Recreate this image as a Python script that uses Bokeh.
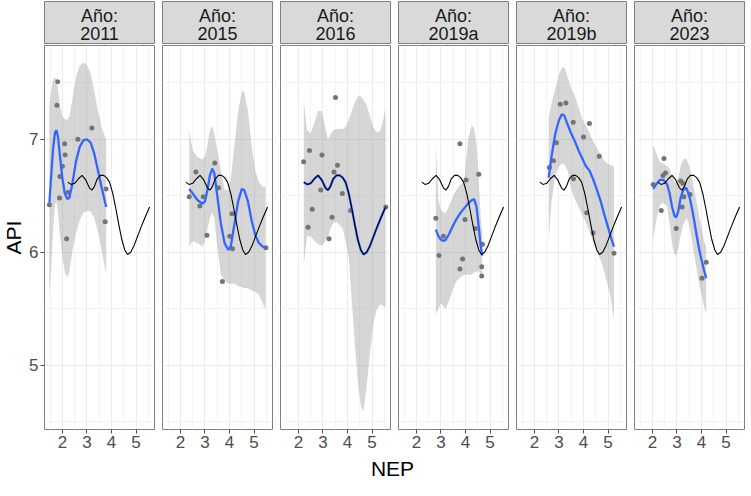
import math
from bokeh.plotting import figure
from bokeh.layouts import row, column
from bokeh.models import Range1d, FixedTicker
from bokeh.core.properties import value
from bokeh.embed import file_html
from bokeh.resources import INLINE

FONT = "Liberation Sans"

# ---------------- data ----------------
facet_years = ["2011", "2015", "2016", "2019a", "2019b", "2023"]
strip_prefix = "Año:"
x_ticks = [2, 3, 4, 5]
x_minor = [1.5, 2.5, 3.5, 4.5, 5.5]
y_ticks = [5, 6, 7]
y_minor = [4.5, 5.5, 6.5, 7.5]
x_label = "NEP"
y_label = "API"

# observed points
nep_2011 = [1.81, 1.78, 3.20, 2.63, 2.09, 2.11, 2.00, 1.90, 2.24, 1.88, 1.47, 3.78, 3.74, 2.17]
api_2011 = [7.51, 7.30, 7.10, 7.00, 6.96, 6.86, 6.76, 6.67, 6.53, 6.48, 6.42, 6.56, 6.27, 6.12]
nep_2015 = [3.40, 2.63, 3.55, 2.93, 2.36, 2.79, 4.10, 3.08, 4.01, 4.12, 5.48, 3.71]
api_2015 = [6.79, 6.71, 6.57, 6.49, 6.49, 6.41, 6.34, 6.15, 6.14, 6.03, 6.04, 5.74]
nep_2016 = [3.51, 2.45, 2.96, 2.21, 3.59, 3.45, 2.91, 3.79, 2.56, 4.13, 3.37, 2.39, 3.25, 5.56]
api_2016 = [7.37, 6.90, 6.86, 6.80, 6.77, 6.71, 6.55, 6.52, 6.38, 6.37, 6.31, 6.22, 6.12, 6.40]
nep_2019a = [3.77, 4.54, 4.02, 2.79, 3.98, 4.40, 3.10, 4.69, 2.92, 3.88, 3.77, 4.66, 4.66]
api_2019a = [6.96, 6.69, 6.64, 6.30, 6.29, 6.21, 6.14, 6.07, 5.97, 5.94, 5.85, 5.87, 5.79]
nep_2019b = [3.05, 3.28, 3.58, 4.24, 4.00, 2.89, 4.64, 2.78, 2.61, 3.59, 4.13, 4.39, 5.24]
api_2019b = [7.31, 7.32, 7.15, 7.14, 7.02, 6.97, 6.85, 6.81, 6.75, 6.65, 6.35, 6.17, 5.99]
nep_2023 = [2.47, 2.53, 2.43, 2.03, 3.15, 3.24, 3.28, 3.53, 3.21, 2.36, 2.97, 4.19, 4.02]
api_2023 = [6.83, 6.70, 6.68, 6.60, 6.63, 6.61, 6.49, 6.51, 6.40, 6.37, 6.21, 5.91, 5.77]

# smoothed fits (x, fit, lower, upper)
sx_2011 = [1.47, 1.55, 1.62, 1.70, 1.76, 1.82, 1.90, 2.00, 2.10, 2.20, 2.28, 2.40, 2.55, 2.70, 2.85, 3.00, 3.15, 3.30, 3.45, 3.60, 3.78]
sy_2011 = [6.44, 6.70, 6.92, 7.06, 7.08, 7.02, 6.85, 6.65, 6.52, 6.47, 6.48, 6.60, 6.80, 6.93, 6.99, 7.00, 6.97, 6.87, 6.72, 6.57, 6.40]
lo_2011 = [5.60, 5.90, 6.20, 6.42, 6.45, 6.35, 6.15, 5.95, 5.82, 5.78, 5.82, 6.00, 6.17, 6.28, 6.35, 6.37, 6.36, 6.30, 6.18, 6.02, 5.80]
hi_2011 = [7.30, 7.45, 7.53, 7.55, 7.52, 7.45, 7.30, 7.20, 7.18, 7.17, 7.20, 7.35, 7.55, 7.65, 7.68, 7.66, 7.58, 7.42, 7.25, 7.10, 7.00]

sx_2015 = [2.36, 2.50, 2.70, 2.90, 3.00, 3.10, 3.20, 3.30, 3.38, 3.50, 3.65, 3.80, 3.95, 4.05, 4.20, 4.35, 4.50, 4.60, 4.75, 4.90, 5.05, 5.20, 5.35, 5.47]
sy_2015 = [6.56, 6.52, 6.46, 6.43, 6.45, 6.55, 6.68, 6.74, 6.70, 6.50, 6.25, 6.08, 6.02, 6.05, 6.25, 6.45, 6.56, 6.55, 6.45, 6.28, 6.15, 6.08, 6.05, 6.04]
lo_2015 = [6.05, 6.10, 6.08, 6.05, 6.10, 6.20, 6.30, 6.35, 6.30, 6.05, 5.80, 5.75, 5.72, 5.72, 5.72, 5.70, 5.69, 5.68, 5.68, 5.66, 5.65, 5.62, 5.55, 5.49]
hi_2015 = [7.07, 6.90, 6.84, 6.82, 6.85, 6.95, 7.08, 7.12, 7.05, 6.90, 6.72, 6.55, 6.55, 6.65, 6.95, 7.25, 7.42, 7.42, 7.25, 6.95, 6.72, 6.62, 6.58, 6.58]

# 2016 fit (also drawn in black in every facet as the reference curve)
sx_2016 = [2.22, 2.35, 2.50, 2.65, 2.80, 2.95, 3.10, 3.20, 3.30, 3.42, 3.55, 3.68, 3.80, 3.92, 4.05, 4.18, 4.30, 4.42, 4.54, 4.65, 4.78, 4.92, 5.06, 5.20, 5.35, 5.55]
sy_2016 = [6.62, 6.60, 6.61, 6.65, 6.68, 6.64, 6.57, 6.55, 6.58, 6.65, 6.68, 6.68, 6.66, 6.62, 6.52, 6.38, 6.24, 6.11, 6.02, 5.98, 6.00, 6.06, 6.14, 6.22, 6.30, 6.40]
lo_2016 = [5.89, 6.14, 6.14, 6.10, 6.07, 6.06, 6.10, 6.13, 6.20, 6.26, 6.27, 6.24, 6.21, 6.10, 5.95, 5.55, 5.18, 4.85, 4.64, 4.59, 4.82, 5.12, 5.38, 5.50, 5.54, 5.51]
hi_2016 = [7.33, 7.08, 7.05, 7.15, 7.25, 7.25, 7.10, 7.00, 7.04, 7.08, 7.09, 7.09, 7.09, 7.11, 7.17, 7.25, 7.33, 7.38, 7.38, 7.35, 7.30, 7.20, 7.10, 7.06, 7.08, 7.27]

sx_2019a = [2.79, 2.90, 3.00, 3.10, 3.20, 3.35, 3.50, 3.65, 3.80, 3.95, 4.10, 4.25, 4.35, 4.45, 4.55, 4.62, 4.68]
sy_2019a = [6.20, 6.14, 6.11, 6.10, 6.11, 6.17, 6.24, 6.30, 6.35, 6.39, 6.43, 6.46, 6.47, 6.40, 6.20, 6.05, 5.97]
lo_2019a = [5.45, 5.50, 5.55, 5.52, 5.50, 5.58, 5.68, 5.75, 5.78, 5.80, 5.80, 5.80, 5.82, 5.83, 5.83, 5.80, 5.77]
hi_2019a = [6.95, 6.45, 6.38, 6.35, 6.35, 6.42, 6.50, 6.56, 6.60, 6.63, 7.00, 7.12, 7.10, 6.95, 6.60, 6.30, 6.17]

sx_2019b = [2.58, 2.70, 2.85, 3.00, 3.12, 3.22, 3.35, 3.50, 3.65, 3.80, 3.95, 4.10, 4.25, 4.40, 4.55, 4.70, 4.85, 5.00, 5.12, 5.24]
sy_2019b = [6.66, 6.85, 7.05, 7.17, 7.22, 7.21, 7.13, 7.05, 6.98, 6.90, 6.83, 6.76, 6.72, 6.64, 6.55, 6.45, 6.33, 6.22, 6.13, 6.05]
lo_2019b = [6.10, 6.45, 6.68, 6.76, 6.78, 6.78, 6.72, 6.55, 6.47, 6.40, 6.33, 6.26, 6.18, 6.08, 6.00, 5.93, 5.82, 5.70, 5.58, 5.40]
hi_2019b = [7.20, 7.32, 7.45, 7.57, 7.63, 7.64, 7.55, 7.45, 7.38, 7.28, 7.18, 7.12, 7.05, 6.98, 6.92, 6.86, 6.81, 6.78, 6.77, 6.76]

sx_2023 = [2.03, 2.15, 2.30, 2.45, 2.60, 2.70, 2.80, 2.90, 2.97, 3.05, 3.15, 3.25, 3.38, 3.50, 3.60, 3.70, 3.80, 3.90, 4.00, 4.10, 4.19]
sy_2023 = [6.56, 6.60, 6.64, 6.64, 6.60, 6.52, 6.40, 6.32, 6.31, 6.36, 6.48, 6.55, 6.57, 6.50, 6.40, 6.28, 6.15, 6.03, 5.93, 5.84, 5.77]
lo_2023 = [6.10, 6.28, 6.42, 6.44, 6.40, 6.25, 6.08, 5.98, 5.97, 6.03, 6.15, 6.24, 6.30, 6.25, 6.12, 5.98, 5.85, 5.72, 5.62, 5.52, 5.45]
hi_2023 = [6.95, 6.88, 6.80, 6.78, 6.76, 6.74, 6.68, 6.62, 6.62, 6.66, 6.76, 6.82, 6.83, 6.76, 6.67, 6.55, 6.44, 6.32, 6.22, 6.10, 6.05]

points = {
    "2011": (nep_2011, api_2011), "2015": (nep_2015, api_2015), "2016": (nep_2016, api_2016),
    "2019a": (nep_2019a, api_2019a), "2019b": (nep_2019b, api_2019b), "2023": (nep_2023, api_2023),
}
smooths = {
    "2011": (sx_2011, sy_2011, lo_2011, hi_2011), "2015": (sx_2015, sy_2015, lo_2015, hi_2015),
    "2016": (sx_2016, sy_2016, lo_2016, hi_2016), "2019a": (sx_2019a, sy_2019a, lo_2019a, hi_2019a),
    "2019b": (sx_2019b, sy_2019b, lo_2019b, hi_2019b), "2023": (sx_2023, sy_2023, lo_2023, hi_2023),
}
ref_x, ref_y = sx_2016, sy_2016

# ---------------- layout constants ----------------
FW, FH = 110, 384
GAP = 8
LEFT_AX = 16
API_W = 26
STRIP_H = 43
BOTTOM_AX = 26
NEP_H = 26
X_RANGE = (1.27, 5.75)
Y_RANGE = (4.43, 7.83)

GRID_MAJOR = "#EBEBEB"
GRID_MINOR = "#F3F3F3"
BORDER = "#7F7F7F"
TICK_TXT = "#4D4D4D"


def base_fig(**kw):
    return figure(output_backend="svg", toolbar_location=None, **kw)


# y-axis title column
api_fig = base_fig(frame_width=API_W, frame_height=FH, x_range=Range1d(0, 1), y_range=Range1d(0, 1),
                   x_axis_location=None, y_axis_location=None,
                   min_border_left=0, min_border_right=0,
                   min_border_top=STRIP_H + 2, min_border_bottom=BOTTOM_AX)
api_fig.grid.visible = False
api_fig.outline_line_color = None
api_fig.text(x=[0.5], y=[0.5], text=[y_label], angle=math.pi / 2, text_align="center",
             text_baseline="middle", text_font=value(FONT), text_font_size="21px", text_color="black")

cols = []
for i, yr in enumerate(facet_years):
    first = i == 0
    last = i == len(facet_years) - 1
    ml = LEFT_AX if first else 1
    mr = 1 if last else GAP - 1

    # strip
    s = base_fig(frame_width=FW, frame_height=STRIP_H, x_range=Range1d(0, 1), y_range=Range1d(0, 1),
                 x_axis_location=None, y_axis_location=None,
                 min_border_left=ml, min_border_right=mr, min_border_top=1, min_border_bottom=0)
    s.grid.visible = False
    s.background_fill_color = "#D9D9D9"
    s.outline_line_color = BORDER
    s.text(x=[0.5], y=[0.67], text=[strip_prefix], text_align="center", text_baseline="middle",
           text_font=value(FONT), text_font_size="18px", text_color="#1A1A1A")
    s.text(x=[0.5], y=[0.25], text=[yr], text_align="center", text_baseline="middle",
           text_font=value(FONT), text_font_size="18px", text_color="#1A1A1A")

    # panel
    p = base_fig(frame_width=FW, frame_height=FH, x_range=Range1d(*X_RANGE), y_range=Range1d(*Y_RANGE),
                 min_border_left=ml, min_border_right=mr, min_border_top=1, min_border_bottom=BOTTOM_AX)
    p.xaxis.ticker = FixedTicker(ticks=x_ticks, minor_ticks=x_minor)
    p.yaxis.ticker = FixedTicker(ticks=y_ticks, minor_ticks=y_minor)
    p.xgrid.ticker = FixedTicker(ticks=x_ticks, minor_ticks=x_minor)
    p.ygrid.ticker = FixedTicker(ticks=y_ticks, minor_ticks=y_minor)
    p.grid.grid_line_color = GRID_MAJOR
    p.grid.grid_line_width = 1
    p.grid.minor_grid_line_color = GRID_MINOR
    p.grid.minor_grid_line_width = 1
    p.axis.axis_line_color = None
    p.axis.major_tick_line_color = TICK_TXT
    p.axis.major_tick_out = 4
    p.axis.major_tick_in = 0
    p.axis.minor_tick_line_color = None
    p.axis.major_label_text_font = FONT
    p.axis.major_label_text_font_size = "17px"
    p.axis.major_label_text_color = TICK_TXT
    p.axis.major_label_standoff = 2
    p.outline_line_color = BORDER
    p.outline_line_width = 1
    if not first:
        p.yaxis.visible = False

    sx, sy, lo, hi = smooths[yr]
    px, py = points[yr]
    p.varea(x=sx, y1=lo, y2=hi, fill_color="#999999", fill_alpha=0.4)
    p.scatter(x=px, y=py, size=5, fill_color="#747474", line_color=None)
    p.line(x=sx, y=sy, line_color="#3366FF", line_width=2.3)
    p.line(x=ref_x, y=ref_y, line_color="black", line_width=1.1)

    cols.append(column(s, p, spacing=0))

nep_fig = base_fig(frame_width=6 * FW + 5 * GAP, frame_height=NEP_H, x_range=Range1d(0, 1), y_range=Range1d(0, 1),
                   x_axis_location=None, y_axis_location=None,
                   min_border_left=API_W + LEFT_AX, min_border_right=1, min_border_top=0, min_border_bottom=0)
nep_fig.grid.visible = False
nep_fig.outline_line_color = None
nep_fig.text(x=[0.5], y=[0.5], text=[x_label], text_align="center", text_baseline="middle",
             text_font=value(FONT), text_font_size="21px", text_color="black")

layout = column(row(api_fig, *cols, spacing=0), nep_fig, spacing=0)

open("out.html", "w").write(file_html(layout, INLINE))
